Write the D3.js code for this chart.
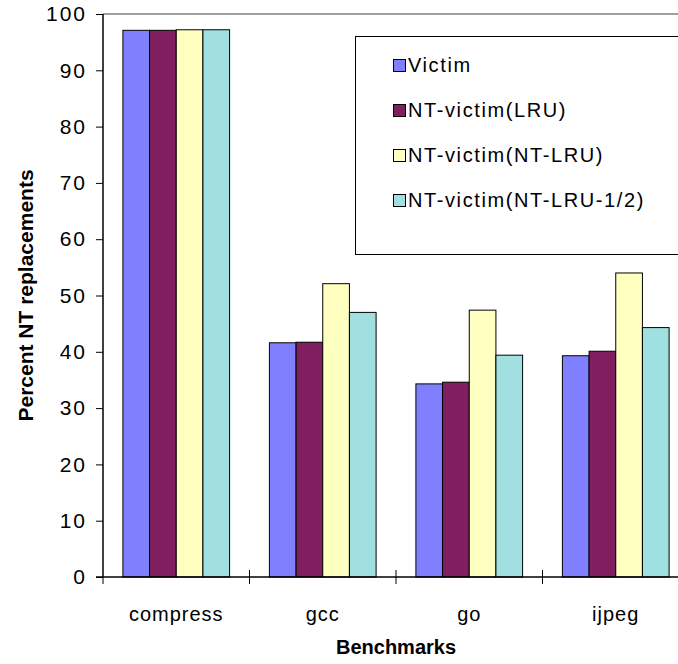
<!DOCTYPE html>
<html>
<head>
<meta charset="utf-8">
<script src="https://cdn.jsdelivr.net/npm/d3@7"></script>
<style>
  body { margin: 0; background: #fff; }
  svg { display: block; font-family: "Liberation Sans", Arial, sans-serif; }
</style>
</head>
<body>
<svg id="chart"></svg>
<script>
// data
const categories = ["compress", "gcc", "go", "ijpeg"];
const seriesNames = ["Victim", "NT-victim(LRU)", "NT-victim(NT-LRU)", "NT-victim(NT-LRU-1/2)"];
const victim = [97.1, 41.6, 34.3, 39.3];
const ntVictimLru = [97.1, 41.7, 34.6, 40.1];
const ntVictimNtLru = [97.2, 52.1, 47.4, 54.0];
const ntVictimHalf = [97.2, 47.0, 39.4, 44.3];
const yTicks = [0, 10, 20, 30, 40, 50, 60, 70, 80, 90, 100];
const colors = ["#8080ff", "#801f5f", "#ffffc0", "#a0e0e0"];

const seriesValues = [victim, ntVictimLru, ntVictimNtLru, ntVictimHalf];

// set the dimensions and margins of the graph
var width = 678, height = 664;
var margin = {top: 14, left: 103, bottom: 87};
var plotRight = 689; // plot area runs past the right edge of the picture

var svg = d3.select("#chart").attr("width", width).attr("height", height);

var x0 = d3.scaleBand().domain(categories).range([margin.left, plotRight]).padding(0);
var x1 = d3.scaleBand().domain(seriesNames).range([0, x0.bandwidth()])
  .paddingInner(0).paddingOuter(0.746);
var y = d3.scaleLinear().domain([0, 100]).range([height - margin.bottom, margin.top]);

// plot area top border
svg.append("line")
  .attr("x1", margin.left).attr("x2", width)
  .attr("y1", y(100)).attr("y2", y(100))
  .attr("stroke", "#808080").attr("stroke-width", 1.5);

// bars
var groups = svg.append("g").selectAll("g")
  .data(categories)
  .join("g")
  .attr("transform", d => "translate(" + x0(d) + ",0)");

groups.selectAll("rect")
  .data((c, i) => seriesNames.map((s, j) => ({s: s, v: seriesValues[j][i], j: j})))
  .join("rect")
  .attr("x", d => x1(d.s))
  .attr("y", d => y(d.v))
  .attr("width", x1.bandwidth())
  .attr("height", d => y(0) - y(d.v))
  .attr("fill", d => colors[d.j])
  .attr("stroke", "#000")
  .attr("stroke-width", 1);

// y axis
var yAxis = svg.append("g")
  .attr("transform", "translate(" + margin.left + ",0)")
  .call(d3.axisLeft(y).tickValues(yTicks).tickSize(7).tickPadding(11));
yAxis.select(".domain").attr("stroke", "#000").attr("stroke-width", 1.5)
  .attr("d", "M0," + y(100) + "V" + y(0));
yAxis.selectAll(".tick line").attr("stroke", "#000");
yAxis.selectAll(".tick text")
  .attr("font-size", 21).attr("fill", "#000")
  .style("letter-spacing", "2px").attr("dx", 2);

// x axis
var xAxis = svg.append("g")
  .attr("transform", "translate(0," + y(0) + ")");
xAxis.append("line")
  .attr("x1", margin.left - 7).attr("x2", width)
  .attr("stroke", "#000").attr("stroke-width", 1.5);
xAxis.selectAll(".xtick")
  .data(categories)
  .join("line")
  .attr("class", "xtick")
  .attr("x1", d => x0(d)).attr("x2", d => x0(d))
  .attr("y1", d => d === categories[0] ? 0 : -7).attr("y2", 7)
  .attr("stroke", "#000");
xAxis.selectAll(".xlabel")
  .data(categories)
  .join("text")
  .attr("class", "xlabel")
  .attr("x", d => x0(d) + x0.bandwidth() / 2)
  .attr("y", 44)
  .attr("text-anchor", "middle")
  .attr("font-size", 20)
  .style("letter-spacing", "1px")
  .text(d => d);

// axis titles
svg.append("text")
  .attr("x", margin.left + (plotRight - margin.left) / 2)
  .attr("y", 654)
  .attr("text-anchor", "middle")
  .attr("font-size", 20).attr("font-weight", "bold")
  .text("Benchmarks");

svg.append("text")
  .attr("transform", "translate(33," + (y(0) + y(100)) / 2 + ") rotate(-90)")
  .attr("text-anchor", "middle")
  .attr("font-size", 21).attr("font-weight", "bold")
  .text("Percent NT replacements");

// legend
var legend = svg.append("g");
legend.append("rect")
  .attr("x", 355.5).attr("y", 36.5)
  .attr("width", 330).attr("height", 218)
  .attr("fill", "#fff").attr("stroke", "#000").attr("stroke-width", 1);

var items = legend.selectAll(".item")
  .data(seriesNames)
  .join("g")
  .attr("class", "item")
  .attr("transform", (d, i) => "translate(393," + (65 + i * 45) + ")");
items.append("rect")
  .attr("x", 0.5).attr("y", -5.5)
  .attr("width", 12).attr("height", 12)
  .attr("fill", (d, i) => colors[i])
  .attr("stroke", "#000");
items.append("text")
  .attr("x", 15).attr("y", 7)
  .attr("font-size", 20)
  .style("letter-spacing", "1.6px")
  .text(d => d);
</script>
</body>
</html>
